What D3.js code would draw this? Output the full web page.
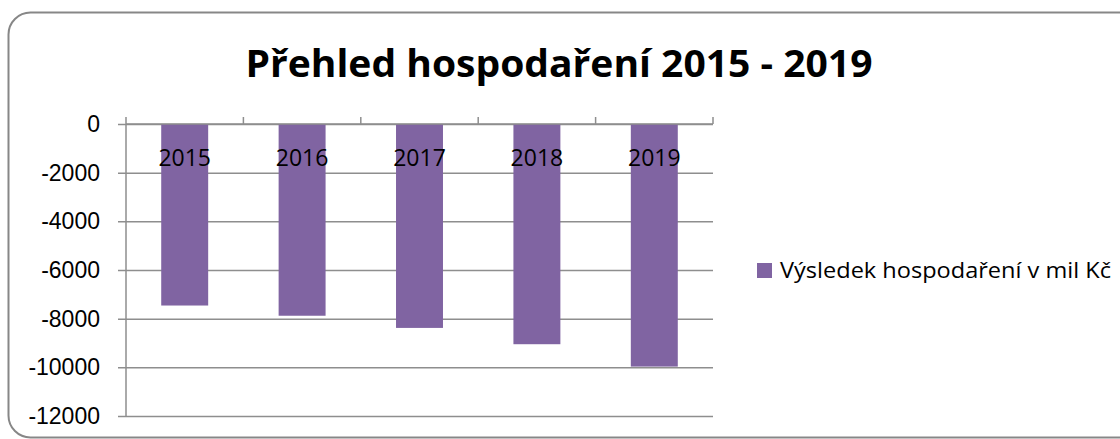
<!DOCTYPE html>
<html>
<head>
<meta charset="utf-8">
<script src="https://cdn.jsdelivr.net/npm/d3@7"></script>
<style>
  body { margin: 0; background: #fff; }
  svg { display: block; font-family: "Open Sans", sans-serif; }
</style>
</head>
<body>
<div id="chart"></div>
<script>
const years = ['2015', '2016', '2017', '2018', '2019'];
const results = [-7460, -7880, -8380, -9050, -9970];
const yTicks = [0, -2000, -4000, -6000, -8000, -10000, -12000];
const seriesName = 'Výsledek hospodaření v mil Kč';
const title = 'Přehled hospodaření 2015 - 2019';

const W = 1120, H = 439;
const margin = { top: 124, left: 126, right: 407, bottom: 23 };
const width = W - margin.left - margin.right;
const height = H - margin.top - margin.bottom;

const svg = d3.select('#chart').append('svg')
  .attr('width', W)
  .attr('height', H);

// outer frame
svg.append('rect')
  .attr('x', 8.5).attr('y', 12.5)
  .attr('width', 1135).attr('height', 425)
  .attr('rx', 22)
  .attr('fill', 'none')
  .attr('stroke', '#878787')
  .attr('stroke-width', 2);

svg.append('text')
  .attr('x', 559)
  .attr('y', 77)
  .attr('text-anchor', 'middle')
  .style('font-size', '38px')
  .style('font-weight', 'bold')
  .attr('fill', '#000')
  .attr('textLength', 627)
  .attr('lengthAdjust', 'spacingAndGlyphs')
  .text(title);

const g = svg.append('g')
  .attr('transform', 'translate(' + margin.left + ',' + margin.top + ')');

const x = d3.scaleBand()
  .domain(years)
  .range([0, width])
  .paddingInner(0.6)
  .paddingOuter(0.3);

const y = d3.scaleLinear()
  .domain([0, -12000])
  .range([0, height]);

// gridlines + y axis
const yAxis = g.append('g')
  .attr('class', 'y-axis')
  .call(d3.axisLeft(y).tickValues(yTicks).tickSize(-width).tickFormat((d) => String(d)));
yAxis.selectAll('.tick line')
  .attr('x1', -8)
  .attr('x2', width)
  .attr('stroke', '#8e8e8e')
  .attr('stroke-width', 1.5);
yAxis.selectAll('.tick text')
  .attr('x', -26)
  .style('font-size', '23px')
  .attr('fill', '#000');
yAxis.select('.domain').remove();

g.append('line')
  .attr('x1', 0).attr('x2', 0)
  .attr('y1', 0).attr('y2', height)
  .attr('stroke', '#8e8e8e')
  .attr('stroke-width', 1.5);

g.selectAll('.bar')
  .data(years)
  .enter().append('rect')
  .attr('class', 'bar')
  .attr('x', (d) => x(d))
  .attr('y', y(0))
  .attr('width', x.bandwidth())
  .attr('height', (d, i) => y(results[i]) - y(0))
  .attr('fill', '#8064A2');

// category axis at zero, ticks between categories pointing up
const step = width / years.length;
g.selectAll('.xtick')
  .data(d3.range(years.length + 1))
  .enter().append('line')
  .attr('x1', (d) => d * step)
  .attr('x2', (d) => d * step)
  .attr('y1', y(0))
  .attr('y2', y(0) - 7)
  .attr('stroke', '#8e8e8e')
  .attr('stroke-width', 1.5);

g.append('line')
  .attr('x1', 0).attr('x2', width)
  .attr('y1', y(0)).attr('y2', y(0))
  .attr('stroke', '#8e8e8e')
  .attr('stroke-width', 1.5);

g.selectAll('.xlabel')
  .data(years)
  .enter().append('text')
  .attr('x', (d) => x(d) + x.bandwidth() / 2)
  .attr('y', 42)
  .attr('text-anchor', 'middle')
  .style('font-size', '23px')
  .attr('fill', '#000')
  .text((d) => d);

// legend
const legend = svg.append('g').attr('transform', 'translate(757,263)');
legend.append('rect')
  .attr('width', 15).attr('height', 15)
  .attr('fill', '#8064A2');
legend.append('text')
  .attr('x', 23)
  .attr('y', 15)
  .style('font-size', '21px')
  .attr('fill', '#000')
  .attr('textLength', 331)
  .attr('lengthAdjust', 'spacingAndGlyphs')
  .text(seriesName);
</script>
</body>
</html>
